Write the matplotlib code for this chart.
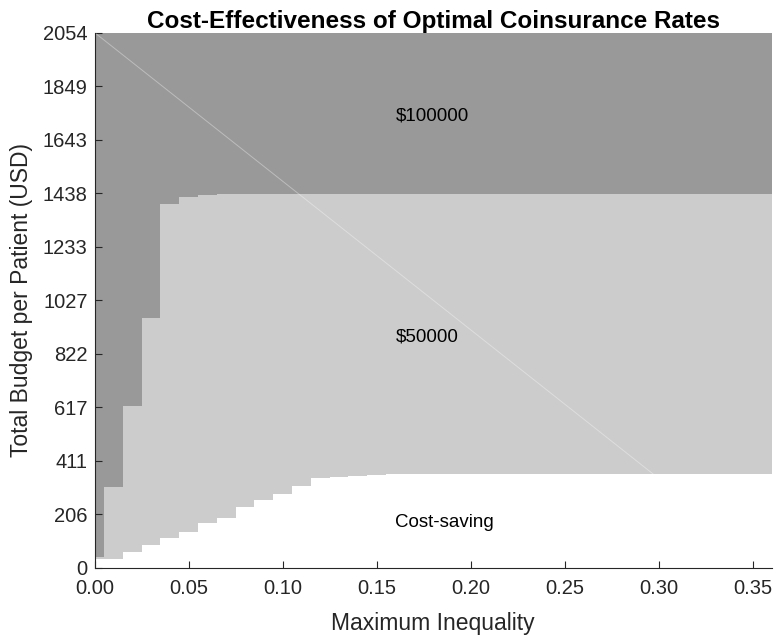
import matplotlib.pyplot as plt
import numpy as np

plt.rcParams['font.family'] = ['Liberation Sans', 'DejaVu Sans']

# maximum inequality levels (grid of the optimisation)
inequality = [0.00, 0.01, 0.02, 0.03, 0.04, 0.05, 0.06, 0.07, 0.08, 0.09,
              0.10, 0.11, 0.12, 0.13, 0.14, 0.15, 0.16, 0.17, 0.18, 0.19,
              0.20, 0.21, 0.22, 0.23, 0.24, 0.25, 0.26, 0.27, 0.28, 0.29,
              0.30, 0.31, 0.32, 0.33, 0.34, 0.35, 0.36]

# budget above which the optimal rates stop being cost-saving
cost_saving_limit = [35, 33, 59, 86, 113, 136, 171, 192, 233, 259,
                     283, 314, 345, 349, 353, 356, 358, 360, 360, 360,
                     360, 360, 360, 360, 360, 360, 360, 360, 360, 360,
                     360, 360, 360, 360, 360, 360, 360]

# budget above which cost per QALY exceeds $50000
wtp_50k_limit = [42, 310, 621, 957, 1396, 1421, 1430, 1434, 1434, 1434,
                 1434, 1434, 1434, 1434, 1434, 1434, 1434, 1434, 1434, 1434,
                 1434, 1434, 1434, 1434, 1434, 1434, 1434, 1434, 1434, 1434,
                 1434, 1434, 1434, 1434, 1434, 1434, 1434]

max_budget = 2054
y_ticks = [0, 205.4, 410.8, 616.2, 821.6, 1027, 1232.4, 1437.8, 1643.2, 1848.6, 2054]
y_tick_labels = ['0', '206', '411', '617', '822', '1027', '1233', '1438', '1643', '1849', '2054']
x_ticks = [0.00, 0.05, 0.10, 0.15, 0.20, 0.25, 0.30, 0.35]

region_labels = ['Cost-saving', '$50000', '$100000']
region_label_y = [175, 885, 1733]

TICK_SIZE = 14.5
LABEL_SIZE = 16.5
TEXT_SIZE = 13.5
TITLE_SIZE = 17.5

fig = plt.figure(figsize=(7.74, 6.39), dpi=100)
ax = fig.add_axes([0.1221, 0.1116, 0.8749, 0.8375])

x = np.array(inequality)
lower = np.array(cost_saving_limit)
upper = np.array(wtp_50k_limit)

# regions: cost-saving (white), <$50000 (light), <$100000 (dark)
ax.fill_between(x, 0, lower, step='mid', color='white', linewidth=0)
ax.fill_between(x, lower, upper, step='mid', color='#cccccc', linewidth=0)
ax.fill_between(x, upper, max_budget, step='mid', color='#999999', linewidth=0)

# budget constraint diagonal
ax.plot([x[0], x[-1]], [max_budget, 0], color='white', alpha=0.35, linewidth=0.7)

for label, yv in zip(region_labels, region_label_y):
    ax.text(0.16, yv, label, fontsize=TEXT_SIZE, ha='left', va='center')

ax.set_xlim(x[0], x[-1])
ax.set_ylim(0, max_budget)
ax.set_xticks(x_ticks)
ax.set_xticklabels(['%.2f' % t for t in x_ticks])
ax.set_yticks(y_ticks)
ax.set_yticklabels(y_tick_labels)
ax.tick_params(direction='in', labelsize=TICK_SIZE, length=5, width=0.8, colors='#262626')
ax.tick_params(axis='x', pad=8)
ax.tick_params(axis='y', pad=5)
ax.spines['top'].set_visible(False)
ax.spines['right'].set_visible(False)
ax.spines['left'].set_color('#262626')
ax.spines['bottom'].set_color('#262626')

ax.set_xlabel('Maximum Inequality', fontsize=LABEL_SIZE, color='#262626', labelpad=10)
ax.set_ylabel('Total Budget per Patient (USD)', fontsize=LABEL_SIZE, color='#262626', labelpad=7)
ax.set_title('Cost-Effectiveness of Optimal Coinsurance Rates', fontsize=TITLE_SIZE,
             fontweight='bold', pad=3)

fig.savefig('out.png', dpi=100)
